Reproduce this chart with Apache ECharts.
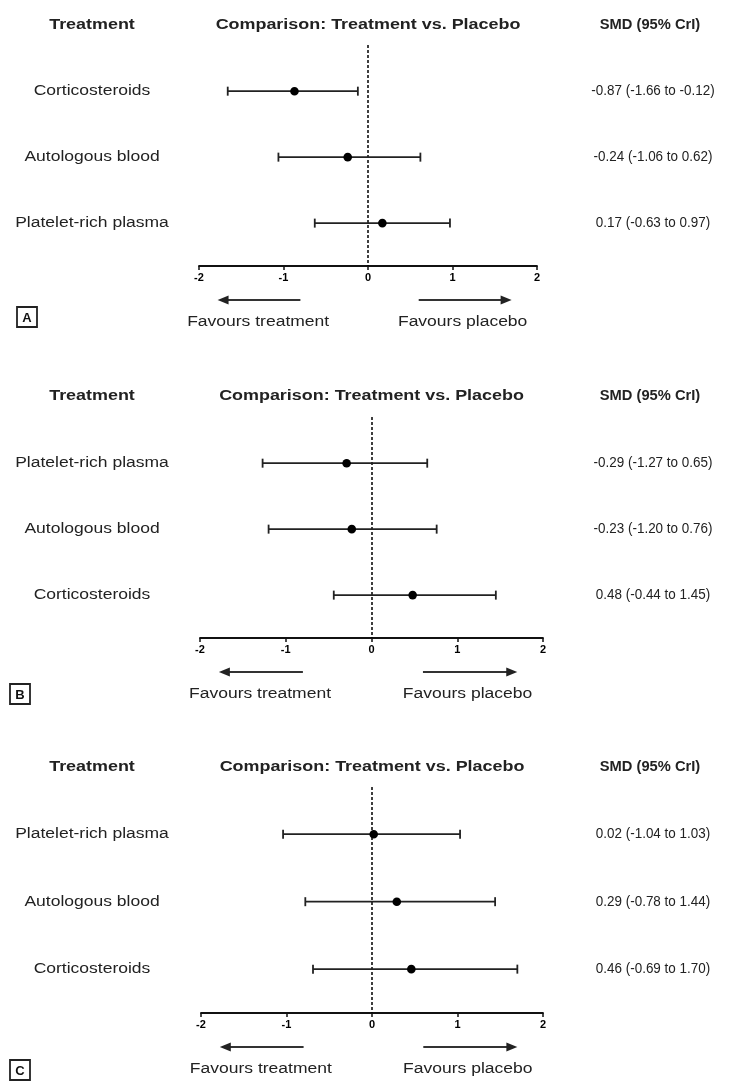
<!DOCTYPE html>
<html><head><meta charset="utf-8">
<script src="https://cdn.jsdelivr.net/npm/echarts@6/dist/echarts.min.js"></script>
<style>html,body{margin:0;padding:0;background:#fff}#c{width:748px;height:1082px}</style>
</head><body><div id="c"></div>
<script>
// ---- data ----
const panelLetters = ['A', 'B', 'C'];
const treatmentsA = ['Corticosteroids', 'Autologous blood', 'Platelet-rich plasma'];
const smdA = [-0.87, -0.24, 0.17];
const lowA = [-1.66, -1.06, -0.63];
const highA = [-0.12, 0.62, 0.97];
const treatmentsB = ['Platelet-rich plasma', 'Autologous blood', 'Corticosteroids'];
const smdB = [-0.29, -0.23, 0.48];
const lowB = [-1.27, -1.20, -0.44];
const highB = [0.65, 0.76, 1.45];
const treatmentsC = ['Platelet-rich plasma', 'Autologous blood', 'Corticosteroids'];
const smdC = [0.02, 0.29, 0.46];
const lowC = [-1.04, -0.78, -0.69];
const highC = [1.03, 1.44, 1.70];
const xTicks = [-2, -1, 0, 1, 2];
const headers = ['Treatment', 'Comparison: Treatment vs. Placebo', 'SMD (95% CrI)'];
const favourLabels = ['Favours treatment', 'Favours placebo'];

const panels = [
  { t: treatmentsA, m: smdA, lo: lowA, hi: highA },
  { t: treatmentsB, m: smdB, lo: lowB, hi: highB },
  { t: treatmentsC, m: smdC, lo: lowC, hi: highC }
];

// ---- layout ----
const FONT = "'Liberation Sans', Arial, sans-serif";
const TXT = '#222';
const grids = [
  { left: 199, width: 338, top: 45, height: 221 },
  { left: 200, width: 343, top: 417, height: 221 },
  { left: 201, width: 342, top: 787, height: 226 }
];
const headerY = [25, 396, 767];
const boxPos = [[27, 317], [20, 694], [20, 1070]];
const LEFT_X = 92, RIGHT_X = 653;
const SX_REG = 1.25, SX_BOLD = 1.28, SX_NUM = 0.96;

const fmt = v => v.toFixed(2);

const chart = echarts.init(document.getElementById('c'), null, { renderer: 'canvas' });

const xAxes = grids.map((g, i) => ({
  type: 'value', gridIndex: i, min: -2, max: 2, interval: 1,
  axisLine: { show: true, onZero: false, lineStyle: { color: '#111', width: 1.8 } },
  axisTick: { show: true, length: 4, lineStyle: { color: '#111', width: 1.5 } },
  axisLabel: {
    color: '#000', fontWeight: 'bold', fontSize: 11, fontFamily: FONT, margin: 6,
    formatter: v => xTicks.includes(v) ? String(v) : ''
  },
  splitLine: { show: false }
}));
const yAxes = grids.map((g, i) => ({
  type: 'value', gridIndex: i, min: 0.3, max: 3.65, inverse: true, show: false
}));

const series = panels.map((p, pi) => ({
  type: 'custom',
  xAxisIndex: pi, yAxisIndex: pi,
  clip: false,
  data: p.m.map((v, i) => [v, i + 1, p.lo[i], p.hi[i]]),
  encode: { x: [0, 2, 3], y: 1 },
  renderItem: function (params, api) {
    const yv = api.value(1);
    const c = api.coord([api.value(0), yv]);
    const l = api.coord([api.value(2), yv]);
    const h = api.coord([api.value(3), yv]);
    const i = params.dataIndex;
    const cap = 4.5;
    const ls = { stroke: '#222', lineWidth: 1.8 };
    return {
      type: 'group',
      children: [
        { type: 'line', shape: { x1: l[0], y1: l[1], x2: h[0], y2: h[1] }, style: ls },
        { type: 'line', shape: { x1: l[0], y1: l[1] - cap, x2: l[0], y2: l[1] + cap }, style: ls },
        { type: 'line', shape: { x1: h[0], y1: h[1] - cap, x2: h[0], y2: h[1] + cap }, style: ls },
        { type: 'circle', shape: { cx: c[0], cy: c[1], r: 4.3 }, style: { fill: '#000' } },
        { type: 'text', x: LEFT_X, y: c[1], scaleX: SX_REG,
          style: { text: p.t[i], font: '14px ' + FONT, fill: TXT, align: 'center', verticalAlign: 'middle' } },
        { type: 'text', x: RIGHT_X, y: c[1], scaleX: SX_NUM,
          style: { text: fmt(p.m[i]) + ' (' + fmt(p.lo[i]) + ' to ' + fmt(p.hi[i]) + ')',
                   font: '14px ' + FONT, fill: TXT, align: 'center', verticalAlign: 'middle' } }
      ]
    };
  },
  markLine: {
    silent: true, symbol: 'none', label: { show: false },
    lineStyle: { color: '#000', type: [3, 2], width: 1.5 },
    data: [{ xAxis: 0 }]
  },
  z: 5
}));

chart.setOption({
  animation: false,
  backgroundColor: '#fff',
  grid: grids.map(g => Object.assign({ containLabel: false }, g)),
  xAxis: xAxes,
  yAxis: yAxes,
  series: series
});

// ---- annotations placed through the axes' scales ----
const graphics = [];
grids.forEach((g, i) => {
  const axisY = g.top + g.height;
  const px = v => chart.convertToPixel({ xAxisIndex: i }, v);
  const hy = headerY[i];
  const boldFont = 'bold 14px ' + FONT;
  graphics.push(
    { type: 'text', x: LEFT_X, y: hy, scaleX: SX_BOLD, style: { text: headers[0], font: boldFont, fill: TXT, align: 'center', verticalAlign: 'middle' } },
    { type: 'text', x: px(0), y: hy, scaleX: SX_BOLD, style: { text: headers[1], font: boldFont, fill: TXT, align: 'center', verticalAlign: 'middle' } },
    { type: 'text', x: 650, y: hy, scaleX: 1.05, style: { text: headers[2], font: boldFont, fill: TXT, align: 'center', verticalAlign: 'middle' } }
  );
  // arrows
  const ay = axisY + 34;
  const lA = px(-1.78), lB = px(-0.8), rA = px(0.6), rB = px(1.7);
  const st = { stroke: '#333', lineWidth: 1.8 };
  graphics.push(
    { type: 'line', shape: { x1: lA + 8, y1: ay, x2: lB, y2: ay }, style: st },
    { type: 'polygon', shape: { points: [[lA, ay], [lA + 11, ay - 4.5], [lA + 11, ay + 4.5]] }, style: { fill: '#222' } },
    { type: 'line', shape: { x1: rA, y1: ay, x2: rB - 8, y2: ay }, style: st },
    { type: 'polygon', shape: { points: [[rB, ay], [rB - 11, ay - 4.5], [rB - 11, ay + 4.5]] }, style: { fill: '#222' } }
  );
  const fy = axisY + 56;
  graphics.push(
    { type: 'text', x: px(-1.3), y: fy, scaleX: SX_REG, style: { text: favourLabels[0], font: '14px ' + FONT, fill: TXT, align: 'center', verticalAlign: 'middle' } },
    { type: 'text', x: px(1.12), y: fy, scaleX: SX_REG, style: { text: favourLabels[1], font: '14px ' + FONT, fill: TXT, align: 'center', verticalAlign: 'middle' } }
  );
  // panel letter box
  const b = boxPos[i];
  graphics.push(
    { type: 'rect', shape: { x: b[0] - 10, y: b[1] - 10, width: 20, height: 20 }, style: { fill: '#fff', stroke: '#222', lineWidth: 1.8 } },
    { type: 'text', x: b[0], y: b[1] + 1, style: { text: panelLetters[i], font: 'bold 13px ' + FONT, fill: '#111', align: 'center', verticalAlign: 'middle' } }
  );
});
chart.setOption({ graphic: graphics });
</script>
</body></html>
